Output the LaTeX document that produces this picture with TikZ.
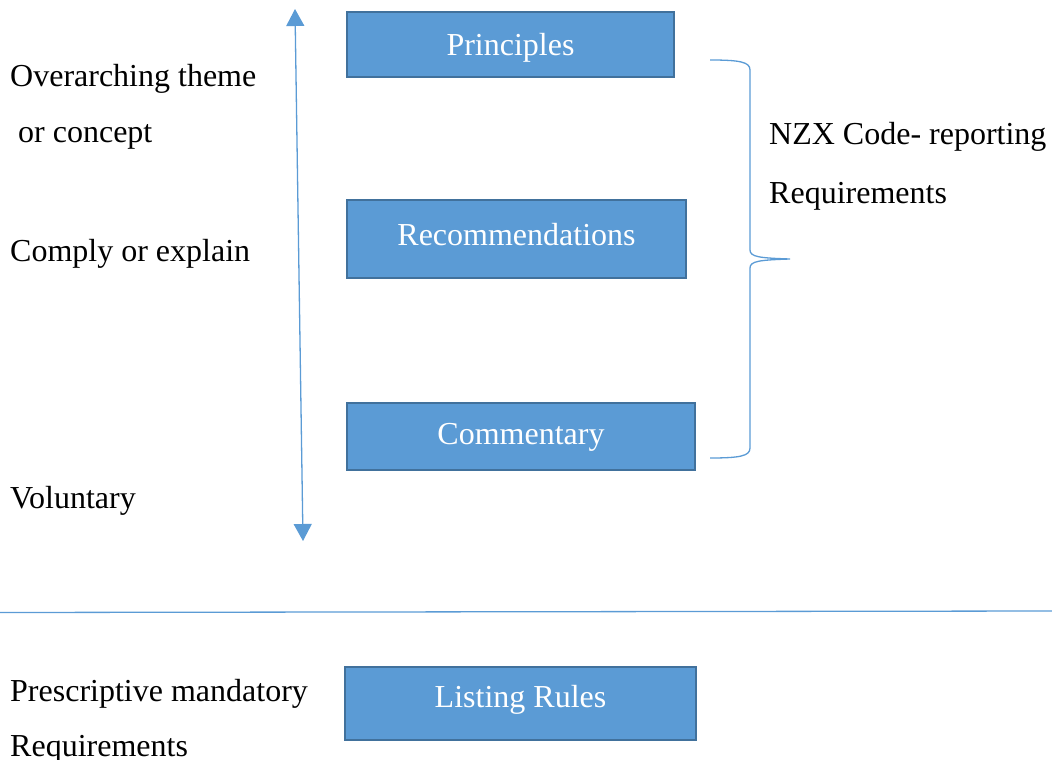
\documentclass[tikz,border=0pt]{standalone}
\usepackage{fontspec}
\setmainfont{Liberation Serif}
\usetikzlibrary{arrows.meta}
\definecolor{boxfill}{HTML}{5B9BD5}
\definecolor{boxedge}{HTML}{41719C}
\tikzset{
  blockbox/.style={draw=boxedge, line width=1.8pt, fill=boxfill, inner sep=0pt},
  boxtext/.style={text=white, inner sep=0pt, font=\fontsize{32}{38}\selectfont},
  lbl/.style={anchor=west, inner sep=0pt, font=\fontsize{32}{38}\selectfont},
  bluel/.style={draw=boxfill, line width=1.3pt},
  >={Triangle[length=17pt,width=18pt]}
}
\begin{document}
\begin{tikzpicture}[x=1pt,y=-1pt]
\useasboundingbox (0,0) rectangle (1052,760);
% boxes
\node[blockbox, minimum width=327pt, minimum height=65pt] (pr) at (510.5,44.5) {};
\node[boxtext] (prt) at (510.5,47.5) {Principles};
\node[blockbox, minimum width=339pt, minimum height=78pt] (rec) at (516.5,239) {};
\node[boxtext] (rect) at (516.5,235) {Recommendations};
\node[blockbox, minimum width=348pt, minimum height=67pt] (com) at (521,436.5) {};
\node[boxtext] (comt) at (521,437.5) {Commentary};
\node[blockbox, minimum width=351pt, minimum height=73pt] (lr) at (520.5,703.5) {};
\node[boxtext] (lrt) at (520.5,700) {Listing Rules};
% arrow
\coordinate (atop) at (295,9);
\coordinate (abot) at (303,541);
\draw[bluel, <->] (atop) -- (abot);
% brace
\coordinate (b1) at (710,60);
\coordinate (b2) at (710,458);
\coordinate (btip) at (790,259);
\draw[bluel] (b1) .. controls (740,60) and (750,62) .. (750,70)
  -- (750,250) .. controls (750,257) and (760,258) .. (btip)
  .. controls (760,260) and (750,261) .. (750,268)
  -- (750,448) .. controls (750,456) and (740,458) .. (b2);
% horizontal line
\coordinate (h1) at (0,612.5);
\coordinate (h2) at (1052,611);
\draw[bluel] (h1) -- (h2);
% labels
\node[lbl] (t1) at (10,79) {Overarching theme};
\node[lbl] (t2) at (18,137) {or concept};
\node[lbl] (t3) at (10,254) {Comply or explain};
\node[lbl] (t4) at (10,501) {Voluntary};
\node[lbl] (t5) at (769,137) {NZX Code- reporting};
\node[lbl] (t6) at (769,196) {Requirements};
\node[lbl] (t7) at (10,694) {Prescriptive mandatory};
\node[lbl] (t8) at (10,749) {Requirements};
\end{tikzpicture}
\end{document}
